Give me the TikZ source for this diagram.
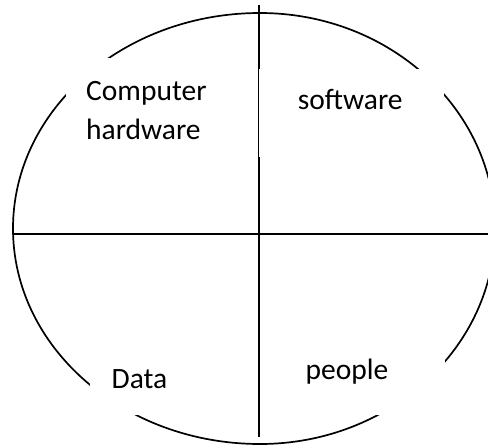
\documentclass[tikz,border=0pt]{standalone}
\usepackage{fontspec}
\setmainfont{Carlito}
\usepackage{tikz}
\usetikzlibrary{positioning}
\tikzset{
  ict/line/.style={line width=1.7pt},
  ict/part/.style={fill=white, inner sep=0pt, anchor=north west, align=left, font=\fontsize{29.5}{39.5}\selectfont}
}

\begin{document}
\begin{tikzpicture}[x=1pt, y=-1pt]
  \useasboundingbox (0,0) rectangle (488,445);
  \coordinate (rim) at (260,13);
  \coordinate (top) at (259,5);
  \coordinate (bot) at (259,437);
  \coordinate (west) at (13,234);
  \coordinate (east) at (495,234);
  \draw[ict/line] (rim) arc[start angle=90, end angle=270, x radius=247pt, y radius=215.5pt]
                        arc[start angle=270, end angle=450, x radius=235pt, y radius=215.5pt];
  \draw[ict/line] (top) -- (bot);
  \draw[ict/line] (west) -- (east);
  % white text boxes cut the rim
  \node[ict/part, inner xsep=20pt, text width=146pt, text height=42pt, text depth=60pt] (hw) at (66,58) {Computer\\hardware};
  \node[ict/part, inner xsep=38.5pt, text width=108pt, text height=40pt, text depth=48pt] (sw) at (259.2,69) {software};
  \node[ict/part, inner xsep=21.5pt, text width=107pt, text height=38pt, text depth=27pt] (data) at (90,350) {Data};
  \node[ict/part, inner xsep=37.5pt, text width=102pt, text height=39pt, text depth=36pt] (people) at (268,340) {people};
\end{tikzpicture}
\end{document}
